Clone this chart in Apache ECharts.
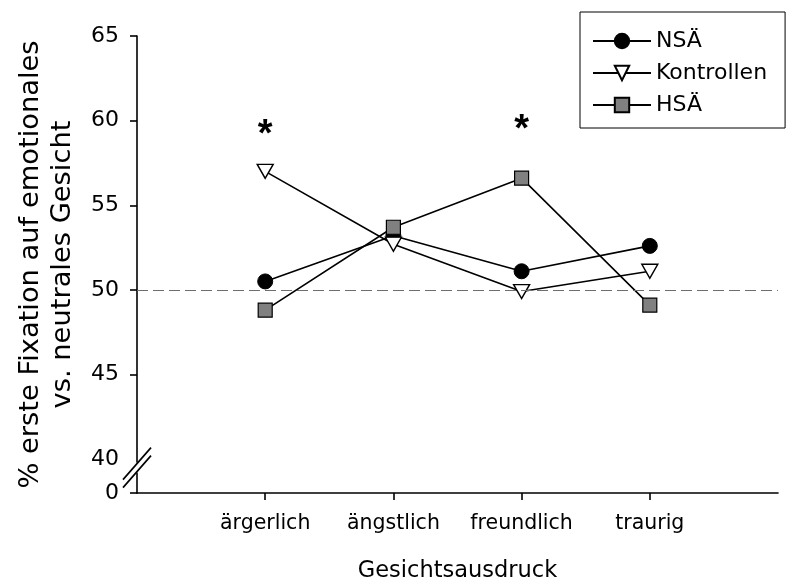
<!DOCTYPE html>
<html>
<head>
<meta charset="utf-8">
<script src="https://cdn.jsdelivr.net/npm/echarts@6/dist/echarts.min.js"></script>
<style>
  html, body { margin: 0; padding: 0; background: #fff; }
  #chart { width: 786px; height: 588px; }
</style>
</head>
<body>
<div id="chart"></div>
<script>
// Facial expression categories on the x axis
const categories = ['ärgerlich', 'ängstlich', 'freundlich', 'traurig'];

// % first fixation on the emotional vs. neutral face, per group
const nsaValues = [50.5, 53.2, 51.1, 52.6];
const kontrollValues = [57.0, 52.7, 49.9, 51.1];
const hsaValues = [48.8, 53.7, 56.6, 49.1];

// Significance asterisks: category index and height
const sigCategoryIdx = [0, 2];
const sigLevels = [59.6, 59.9];

// Y tick labels; the axis is broken between 0 and 40
const yTickLabels = [0, 40, 45, 50, 55, 60, 65];
const BREAK_BASE = 38;   // axis position where the "0" tick sits below the break
const referenceLevel = 50;

const FONT = 'DejaVu Sans';
const toAxisY = v => (v === 0 ? BREAK_BASE : v);
const pts = vals => vals.map((v, i) => [i + 1, v]);

const chart = echarts.init(document.getElementById('chart'), null, { renderer: 'canvas' });

const lineBase = {
  type: 'line',
  lineStyle: { color: '#000', width: 1.6 },
  emphasis: { disabled: true },
  animation: false
};

chart.setOption({
  backgroundColor: '#fff',
  animation: false,
  textStyle: { fontFamily: FONT, color: '#000' },
  grid: { left: 137, right: 8, top: 36, bottom: 93, containLabel: false },
  legend: {
    orient: 'vertical',
    left: 580,
    top: 12,
    padding: [17, 18, 11, 12],
    itemGap: 8,
    itemWidth: 58,
    itemHeight: 18,
    borderColor: '#000',
    borderWidth: 1,
    textStyle: { fontFamily: FONT, fontSize: 22, color: '#000', lineHeight: 24 },
    data: ['NSÄ', 'Kontrollen', 'HSÄ']
  },
  xAxis: {
    type: 'value',
    min: 0,
    max: 5,
    name: 'Gesichtsausdruck',
    nameLocation: 'middle',
    nameGap: 67,
    nameTextStyle: { fontFamily: FONT, fontSize: 22.5, color: '#000' },
    axisLine: { show: true, lineStyle: { color: '#000', width: 1.6 } },
    axisTick: {
      show: true, inside: false, length: 7,
      customValues: [1, 2, 3, 4],
      lineStyle: { color: '#000', width: 1.6 }
    },
    axisLabel: {
      customValues: [1, 2, 3, 4],
      formatter: v => categories[v - 1] || '',
      fontFamily: FONT, fontSize: 20.5, color: '#000', margin: 20
    },
    splitLine: { show: false }
  },
  yAxis: {
    type: 'value',
    min: BREAK_BASE,
    max: 65,
    name: '% erste Fixation auf emotionales\nvs. neutrales Gesicht',
    nameLocation: 'middle',
    nameRotate: 90,
    nameGap: 58,
    nameTextStyle: { fontFamily: FONT, fontSize: 27.3, color: '#000', lineHeight: 32 },
    axisLine: { show: true, lineStyle: { color: '#000', width: 1.6 } },
    axisTick: {
      show: true, inside: false, length: 7,
      customValues: yTickLabels.filter(v => v !== 40).map(toAxisY),
      lineStyle: { color: '#000', width: 1.6 }
    },
    axisLabel: {
      customValues: yTickLabels.map(toAxisY),
      formatter: v => (v === BREAK_BASE ? '0' : String(v)),
      fontFamily: FONT, fontSize: 22, color: '#000', margin: 18
    },
    splitLine: { show: false }
  },
  series: [
    Object.assign({}, lineBase, {
      name: 'NSÄ',
      data: pts(nsaValues),
      symbol: 'circle',
      symbolSize: 15,
      itemStyle: { color: '#000', borderColor: '#000', borderWidth: 1 },
      z: 2,
      markLine: {
        silent: true,
        symbol: 'none',
        label: { show: false },
        lineStyle: { color: '#6e6e6e', type: [11, 5], width: 1.2 },
        data: [{ yAxis: referenceLevel }],
        animation: false
      }
    }),
    Object.assign({}, lineBase, {
      name: 'Kontrollen',
      data: pts(kontrollValues),
      symbol: 'triangle',
      symbolRotate: 180,
      symbolSize: [16, 14],
      itemStyle: { color: '#fff', borderColor: '#000', borderWidth: 1.4 },
      z: 3
    }),
    Object.assign({}, lineBase, {
      name: 'HSÄ',
      data: pts(hsaValues),
      symbol: 'rect',
      symbolSize: 14,
      itemStyle: { color: '#808080', borderColor: '#000', borderWidth: 1.2 },
      z: 4
    }),
    {
      type: 'scatter',
      name: 'sig',
      data: sigCategoryIdx.map((c, i) => [c + 1, sigLevels[i]]),
      symbol: 'circle',
      symbolSize: 2,
      itemStyle: { color: 'rgba(255,255,255,0)', opacity: 1 },
      silent: true,
      label: {
        show: true,
        position: 'inside',
        formatter: '*',
        fontFamily: 'Liberation Sans',
        fontWeight: 'bold',
        fontSize: 38,
        color: '#000',
        opacity: 1,
        textBorderWidth: 0,
        offset: [0, 8]
      },
      z: 5
    }
  ]
});

// Axis-break slashes on the y axis, placed through the axis scale
function drawBreak() {
  const x = chart.convertToPixel({ xAxisIndex: 0 }, 0);
  const yMid = chart.convertToPixel({ yAxisIndex: 0 }, 39.5);
  const dx = 14, dy = 16, off = 4;
  const mk = o => ({
    type: 'line',
    shape: { x1: x - dx, y1: yMid + dy + o, x2: x + dx, y2: yMid - dy + o },
    style: { stroke: '#000', lineWidth: 1.6 },
    z: 10
  });
  chart.setOption({
    graphic: [
      {
        type: 'polygon',
        shape: { points: [[x - 3, yMid - off - 1], [x + 3, yMid - off - 1], [x + 3, yMid + off + 1], [x - 3, yMid + off + 1]] },
        style: { fill: '#fff' },
        z: 9
      },
      mk(-off), mk(off)
    ]
  });
}
drawBreak();
</script>
</body>
</html>
